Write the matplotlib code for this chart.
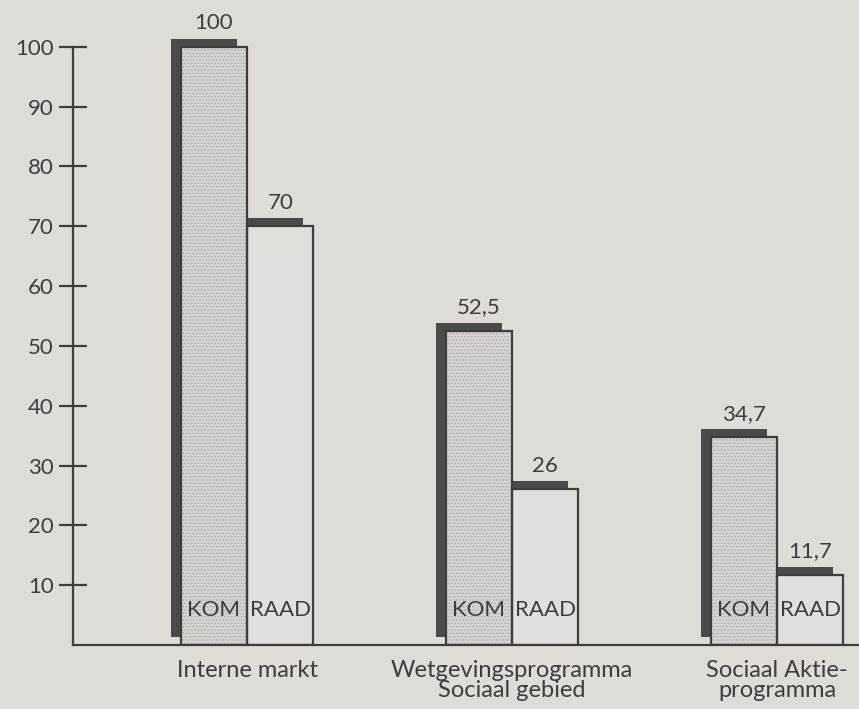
import matplotlib
matplotlib.use('agg')
import matplotlib.pyplot as plt
import numpy as np

# data
categories = ['Interne markt', 'Wetgevingsprogramma\nSociaal gebied', 'Sociaal Aktie-\nprogramma']
kom = [100, 52.5, 34.7]
raad = [70, 26, 11.7]
kom_labels = ['100', '52,5', '34,7']
raad_labels = ['70', '26', '11,7']
yticks = [10, 20, 30, 40, 50, 60, 70, 80, 90, 100]

bg = '#dfdcd8'
ink = '#3d3d3d'
shadow = '#4a4a4a'

plt.rcParams['font.family'] = ['Lato', 'DejaVu Sans']

fig = plt.figure(figsize=(8.59, 7.09), dpi=100, facecolor=bg)
ax = fig.add_axes([0.085, 0.0903, 0.915, 0.8858])
ax.set_facecolor(bg)

x = np.arange(len(categories))
w = 0.25
sdx, sdy = -0.038, 1.35   # drop shadow offset (up/left)

# shadows behind everything
ax.bar(x - w / 2 + sdx, kom, width=w, bottom=sdy, color=shadow, lw=0, zorder=1)
ax.bar(x + w / 2 + sdx, raad, width=w, bottom=sdy, color=shadow, lw=0, zorder=1)

# KOM: dotted grey fill, RAAD: plain
plt.rcParams['hatch.linewidth'] = 0.6
ax.bar(x - w / 2, kom, width=w, color='#d6d4d0', edgecolor='#a9a7a3',
       hatch='.....', lw=0, zorder=2)
ax.bar(x - w / 2, kom, width=w, fill=False, edgecolor=ink, lw=1.6, zorder=3)
ax.bar(x + w / 2, raad, width=w, color='#e1dfdb', edgecolor=ink, lw=1.6, zorder=2)

for i in range(len(categories)):
    ax.annotate(kom_labels[i], (x[i] - w / 2, kom[i] + sdy), xytext=(0, 4),
                textcoords='offset points', ha='center', va='bottom',
                fontsize=16, color=ink)
    ax.annotate(raad_labels[i], (x[i] + w / 2, raad[i] + sdy), xytext=(0, 4),
                textcoords='offset points', ha='center', va='bottom',
                fontsize=16, color=ink)
    ax.annotate('KOM', (x[i] - w / 2, 0), xytext=(0, 18), textcoords='offset points',
                ha='center', va='bottom', fontsize=16, color=ink, zorder=4)
    ax.annotate('RAAD', (x[i] + w / 2, 0), xytext=(0, 18), textcoords='offset points',
                ha='center', va='bottom', fontsize=16, color=ink, zorder=4)

ax.set_xlim(-0.657, 2.309)
ax.set_ylim(0, 105)

for s in ['top', 'right']:
    ax.spines[s].set_visible(False)
ax.spines['left'].set_bounds(0, 100)
ax.spines['left'].set_linewidth(1.6)
ax.spines['bottom'].set_linewidth(1.6)
ax.spines['left'].set_color(ink)
ax.spines['bottom'].set_color(ink)

ax.set_yticks(yticks)
ax.set_yticklabels([str(t) for t in yticks])
ax.tick_params(axis='y', direction='inout', length=20, width=1.6, color=ink,
               labelsize=16, labelcolor=ink, pad=4)

ax.set_xticks(x)
ax.set_xticklabels(categories)
ax.tick_params(axis='x', length=0, labelsize=17, labelcolor=ink, pad=11)
for lbl in ax.get_xticklabels():
    lbl.set_linespacing(0.9)

fig.savefig('out.png', dpi=100, facecolor=bg)
